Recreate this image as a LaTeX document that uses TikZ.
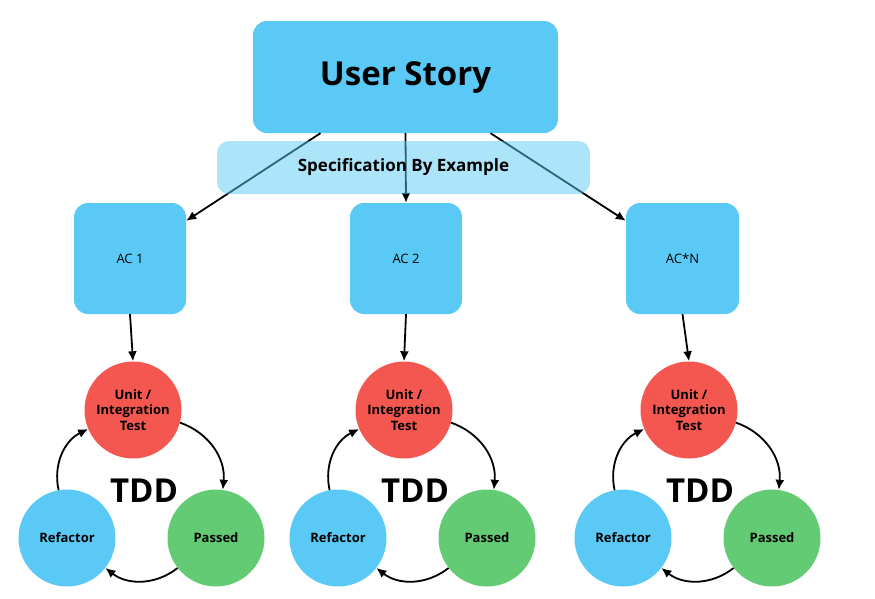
\documentclass[tikz,border=0pt]{standalone}
\usepackage{fontspec}
\setmainfont{Open Sans}
\usetikzlibrary{arrows.meta}
\definecolor{storyblue}{HTML}{5AC9F6}
\definecolor{testred}{HTML}{F4574F}
\definecolor{passgreen}{HTML}{64CB75}

\begin{document}
\begin{tikzpicture}[x=1pt, y=-1pt,
    box/.style={fill=storyblue, rounded corners=14pt, inner sep=0pt},
    ball/.style={circle, minimum size=97pt, inner sep=0pt, align=center,
                 font=\fontsize{13}{15.5}\selectfont\bfseries},
    link/.style={-{Latex[length=10pt,width=9pt]}, line width=1.8pt},
    loop/.style={-{Latex[length=10pt,width=9pt]}, line width=1.8pt, bend left=38}]
                \useasboundingbox (0,0) rectangle (875,598);
                % story and criteria
                \node[box, minimum width=305pt, minimum height=112pt, text depth=6pt, font=\fontsize{33}{36}\selectfont\bfseries] (us) at (405.5,77) {User Story};
                \node[box, minimum width=112pt, minimum height=111pt, font=\fontsize{13}{15}\selectfont] (ac1) at (130,258.5) {AC 1};
                \node[box, minimum width=112pt, minimum height=111pt, font=\fontsize{13}{15}\selectfont] (ac2) at (406,258.5) {AC 2};
                \node[box, minimum width=113pt, minimum height=111pt, font=\fontsize{13}{15}\selectfont] (acn) at (682.5,258.5) {AC*N};
                \draw[link] ([xshift=-85pt]us.south) -- ([yshift=-18pt]ac1.north east);
                \draw[link] (us.south) -- (ac2.north);
                \draw[link] ([xshift=85pt]us.south) -- ([yshift=-18pt]acn.north west);
                % semi-transparent band over the arrows
                \node[fill=storyblue, fill opacity=0.5, text opacity=1, rounded corners=12pt,
                      minimum width=373pt, minimum height=53pt, font=\fontsize{17}{20}\selectfont\bfseries] (sbe) at (403.5,167.5) {Specification By Example};
                % TDD cycles
                \foreach \name/\cx in {1/133, 2/404, 3/689} {
                    \node[ball, fill=testred] (test\name) at (\cx,410) {Unit /\\Integration\\Test};
                    \node[ball, fill=passgreen] (passed\name) at (\cx+83,538) {Passed};
                    \node[ball, fill=storyblue] (refactor\name) at (\cx-66,538) {Refactor};
                    \node[font=\fontsize{33}{36}\selectfont\bfseries] (tdd\name) at (\cx+11,491) {TDD};
                    \draw[loop] (test\name.-15) to (passed\name.82);
                    \draw[loop] (passed\name.-142) to (refactor\name.-38);
                    \draw[loop] (refactor\name.100) to (test\name.-157);
                }
                \draw[link] (ac1.south) -- (test1.north);
                \draw[link] (ac2.south) -- (test2.north);
                \draw[link] (acn.south) -- (test3.north);
            \end{tikzpicture}
\end{document}
